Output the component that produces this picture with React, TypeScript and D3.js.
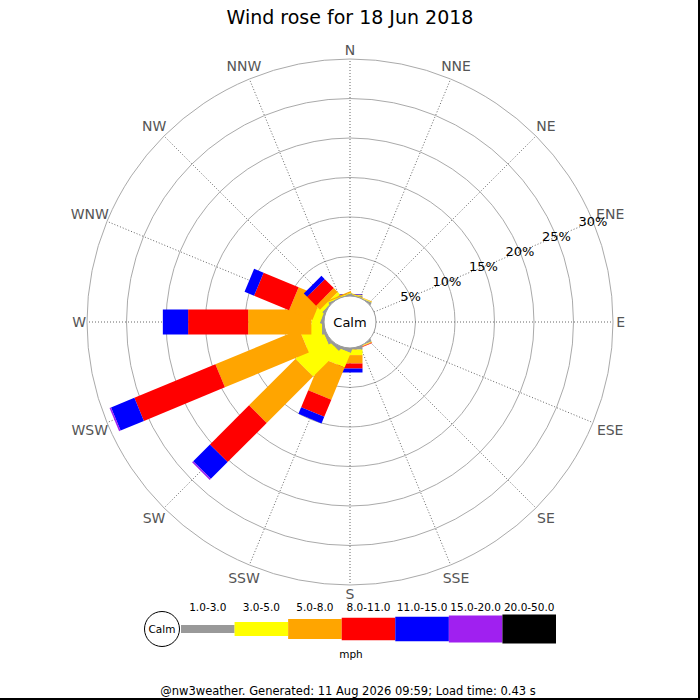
import * as d3 from 'd3';

// Wind rose, 18 Jun 2018 (nw3weather)
const directions = ['N', 'NNE', 'NE', 'ENE', 'E', 'ESE', 'SE', 'SSE', 'S', 'SSW', 'SW', 'WSW', 'W', 'WNW', 'NW', 'NNW'];
const speedClasses = ['1.0-3.0', '3.0-5.0', '5.0-8.0', '8.0-11.0', '11.0-15.0', '15.0-20.0', '20.0-50.0'];
const classColors = ['#999999', '#ffff00', '#ffa500', '#ff0000', '#0000ff', '#a020f0', '#000000'];

// % of time per direction, one array per speed class (N .. NNW)
const speed1to3 = [0.05, 0.04, 0, 0, 0, 0, 0, 0.03, 0.2, 0.3, 0.3, 0.3, 0.25, 0.2, 0.1, 0.04];
const speed3to5 = [0.06, 0.08, 0, 0, 0, 0, 0, 0.08, 0.7, 2.0, 4.6, 2.7, 1.35, 1.0, 0.4, 0.1];
const speed5to8 = [0.04, 0.06, 0, 0, 0, 0, 0, 0.05, 1.06, 4.4, 8.3, 11.5, 8.0, 3.2, 0.7, 0.15];
const speed8to11 = [0.03, 0, 0, 0, 0, 0, 0, 0.08, 0.64, 2.35, 7.0, 11.1, 7.6, 4.8, 1.6, 0];
const speed11to15 = [0.07, 0, 0, 0, 0, 0, 0, 0, 0.5, 0.9, 3.0, 3.2, 3.2, 1.3, 0.6, 0];
const speed15to20 = [0, 0, 0, 0, 0, 0, 0, 0, 0, 0, 0.2, 0.2, 0, 0, 0, 0];
const speed20to50 = [0, 0, 0, 0, 0, 0, 0, 0, 0, 0, 0, 0, 0, 0, 0, 0];

const ringTicks = [5, 10, 15, 20, 25, 30];

const title = 'Wind rose for 18 Jun 2018';
const footer = '@nw3weather. Generated: 11 Aug 2026 09:59; Load time: 0.43 s';

const series = [speed1to3, speed3to5, speed5to8, speed8to11, speed11to15, speed15to20, speed20to50];

const W = 700;
const H = 700;
const cx = 350;
const cy = 322;
const calmR = 26;
const barW = 25;
const font = 'DejaVu Sans, sans-serif';

// legend bar heights grow with the class
const legendHeights = [8, 14, 20, 22.5, 24.5, 27, 29];

export default function App() {
  const r = d3.scaleLinear().domain([0, 30]).range([calmR, 263]);
  const angle = d3.scaleLinear().domain([0, directions.length]).range([0, 360]);

  const polar = (deg: number, rad: number) => {
    const a = (deg * Math.PI) / 180;
    return [cx + rad * Math.sin(a), cy - rad * Math.cos(a)];
  };

  // label sits just outside the ring, pushed out by its own box
  const labelRadius = (deg: number, text: string) => {
    const a = (deg * Math.PI) / 180;
    const halfW = (text.length * 9.6) / 2;
    const halfH = 6;
    return 266 + halfW * Math.abs(Math.sin(a)) + halfH * Math.abs(Math.cos(a));
  };

  // cumulative sums per direction
  const stacks = directions.map((_, i) => {
    const vals = series.map((s) => s[i]);
    const cum = d3.cumsum(vals);
    return vals.map((v, k) => ({ k, v, lo: k === 0 ? null : cum[k - 1], hi: cum[k] }));
  });

  const lx = d3.scaleBand().domain(speedClasses).range([181, 556]);
  const ly = 629;

  const labelDeg = angle(3); // percent labels run along ENE

  return (
    <svg width={W} height={H} style={{ position: 'absolute', left: 0, top: 0, background: '#fff' }} fontFamily={font}>
      <rect x={0} y={0} width={W} height={H} fill="#fff" />
      <text x={cx} y={17} textAnchor="middle" dominantBaseline="central" fontSize={19} fill="#000">
        {title}
      </text>

      {/* rings */}
      {ringTicks.map((t) => (
        <circle key={t} cx={cx} cy={cy} r={r(t)} fill="none" stroke="#aaa" strokeWidth={1} />
      ))}

      {/* spokes */}
      {directions.map((d, i) => {
        const [x1, y1] = polar(angle(i), calmR);
        const [x2, y2] = polar(angle(i), r(30));
        return (
          <line key={d} x1={x1} y1={y1} x2={x2} y2={y2} stroke="#555" strokeWidth={0.9} strokeDasharray="1,2" />
        );
      })}

      {/* direction labels */}
      {directions.map((d, i) => {
        const [x, y] = polar(angle(i), labelRadius(angle(i), d));
        return (
          <text key={d} x={x} y={y} textAnchor="middle" dominantBaseline="central" fontSize={14} fill="#555">
            {d}
          </text>
        );
      })}

      {/* bars */}
      {stacks.map((segs, i) => (
        <g key={directions[i]} transform={`translate(${cx},${cy}) rotate(${angle(i)})`}>
          {segs
            .filter((s) => s.v > 0)
            .map((s) => {
              const inner = s.lo === null ? 0 : r(s.lo);
              const outer = r(s.hi);
              return (
                <rect key={s.k} x={-barW / 2} y={-outer} width={barW} height={outer - inner} fill={classColors[s.k]} />
              );
            })}
        </g>
      ))}

      {/* percent labels */}
      {ringTicks.map((t) => {
        const [x, y] = polar(labelDeg, r(t));
        return (
          <text key={t} x={x} y={y} textAnchor="middle" dominantBaseline="central" fontSize={13} fill="#000">
            {t}%
          </text>
        );
      })}

      {/* calm */}
      <circle cx={cx} cy={cy} r={calmR} fill="#fff" stroke="#999" strokeWidth={1} />
      <text x={cx} y={cy} textAnchor="middle" dominantBaseline="central" fontSize={13} fill="#000">
        Calm
      </text>

      {/* legend */}
      <circle cx={162} cy={ly} r={17.5} fill="#fff" stroke="#000" strokeWidth={1} />
      <text x={162} y={ly} textAnchor="middle" dominantBaseline="central" fontSize={10.5} fill="#000">
        Calm
      </text>
      {speedClasses.map((c, k) => (
        <g key={c}>
          <rect
            x={lx(c)}
            y={ly - legendHeights[k] / 2}
            width={lx.bandwidth()}
            height={legendHeights[k]}
            fill={classColors[k]}
          />
          <text
            x={lx(c)! + lx.bandwidth() / 2}
            y={607}
            textAnchor="middle"
            dominantBaseline="central"
            fontSize={10.5}
            fill="#000"
          >
            {c}
          </text>
        </g>
      ))}
      <text x={351} y={654} textAnchor="middle" dominantBaseline="central" fontSize={10.5} fill="#000">
        mph
      </text>

      <text x={348} y={691} textAnchor="middle" dominantBaseline="central" fontSize={11.5} fill="#000">
        {footer}
      </text>

      <line x1={699} y1={0} x2={699} y2={H} stroke="#000" strokeWidth={2} />
      <line x1={0} y1={699} x2={W} y2={699} stroke="#000" strokeWidth={2} />
    </svg>
  );
}
